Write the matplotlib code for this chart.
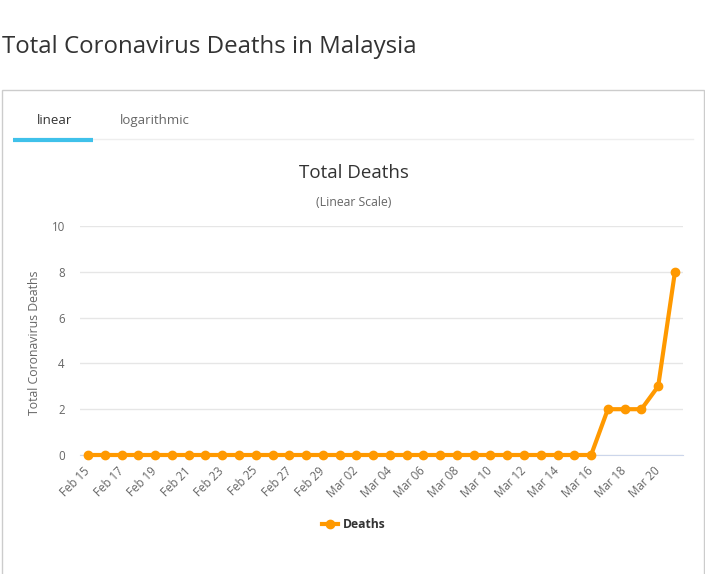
import numpy as np
import matplotlib.pyplot as plt
from matplotlib.patches import Rectangle
from matplotlib.lines import Line2D

dates = ['Feb 15', 'Feb 16', 'Feb 17', 'Feb 18', 'Feb 19', 'Feb 20', 'Feb 21', 'Feb 22',
         'Feb 23', 'Feb 24', 'Feb 25', 'Feb 26', 'Feb 27', 'Feb 28', 'Feb 29',
         'Mar 01', 'Mar 02', 'Mar 03', 'Mar 04', 'Mar 05', 'Mar 06', 'Mar 07', 'Mar 08',
         'Mar 09', 'Mar 10', 'Mar 11', 'Mar 12', 'Mar 13', 'Mar 14', 'Mar 15', 'Mar 16',
         'Mar 17', 'Mar 18', 'Mar 19', 'Mar 20', 'Mar 21']
deaths = [0] * 31 + [2, 2, 2, 3, 8]
yticks = [0, 2, 4, 6, 8, 10]

plt.rcParams['font.family'] = ['Open Sans', 'DejaVu Sans']
W, H = 705, 574
fig = plt.figure(figsize=(W / 100, H / 100), dpi=100)

def fx(px):
    return px / W

def fy(py):
    return 1 - py / H

# page title
fig.text(fx(2), fy(47), 'Total Coronavirus Deaths in Malaysia', fontsize=17.3,
         color='#333333', va='center', ha='left')

# panel box
fig.patches.append(Rectangle((fx(2), fy(580)), fx(702), fy(90) - fy(580),
                             transform=fig.transFigure, fill=False,
                             edgecolor='#cccccc', linewidth=1))
# tabs
fig.text(fx(55), fy(121), 'linear', fontsize=9.5, color='#333333', ha='center', va='center')
fig.text(fx(155), fy(121), 'logarithmic', fontsize=9.5, color='#666666', ha='center', va='center')
fig.add_artist(Line2D([fx(13), fx(693)], [fy(138.5), fy(138.5)], transform=fig.transFigure,
                      color='#eeeeee', linewidth=1))
fig.add_artist(Line2D([fx(13), fx(93)], [fy(140), fy(140)], transform=fig.transFigure,
                      color='#3fc1ea', linewidth=3, solid_capstyle='butt'))

# chart titles
fig.text(fx(354), fy(173), 'Total Deaths', fontsize=13.5, color='#333333', ha='center', va='center')
fig.text(fx(354), fy(203), '(Linear Scale)', fontsize=8.8, color='#666666', ha='center', va='center')

ax = fig.add_axes([fx(80), fy(455), fx(683) - fx(80), fy(226) - fy(455)])
x = np.arange(len(dates))
ax.plot(x, deaths, color='#ff9900', linewidth=3, marker='o', markersize=6,
        solid_joinstyle='round', clip_on=False, zorder=3)
ax.set_xlim(-0.48, len(dates) - 0.52)
ax.set_ylim(0, 10)
ax.set_yticks(yticks)
ax.set_yticklabels([str(v) for v in yticks])
ax.set_xticks(x[::2])
ax.set_xticklabels(dates[::2], rotation=45, ha='right', va='center', rotation_mode='anchor')
ax.tick_params(axis='x', length=0, labelsize=8.3, labelcolor='#666666', pad=10)
ax.tick_params(axis='y', length=0, labelsize=8.3, labelcolor='#666666', pad=11)
ax.grid(axis='y', color='#e6e6e6', linewidth=1)
ax.set_axisbelow(True)
for s in ['top', 'right', 'left']:
    ax.spines[s].set_visible(False)
ax.spines['bottom'].set_color('#ccd6eb')
ax.set_ylabel('Total Coronavirus Deaths', fontsize=8.8, color='#666666')
ax.yaxis.set_label_coords(-0.065, 0.49)

# legend
fig.add_artist(Line2D([fx(322), fx(338)], [fy(524), fy(524)], transform=fig.transFigure,
                      color='#ff9900', linewidth=3))
fig.add_artist(Line2D([fx(330)], [fy(524)], transform=fig.transFigure,
                      color='#ff9900', marker='o', markersize=6))
fig.text(fx(343), fy(524), 'Deaths', fontsize=8.7, fontweight='bold', color='#333333',
         ha='left', va='center')

fig.savefig('out.png', dpi=100)
